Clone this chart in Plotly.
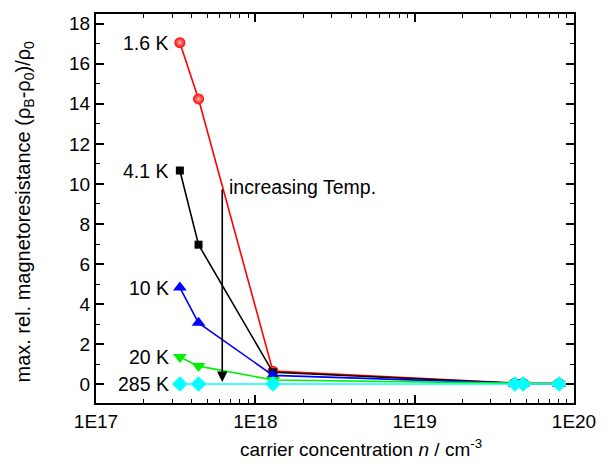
import math
import plotly.graph_objects as go

# carrier concentration (cm^-3)
n_vals = [3.36e17, 4.4e17, 1.29e18, 4.25e19, 4.8e19, 8.06e19]

# max. rel. magnetoresistance per temperature
mr_1p6K = [17.05, 14.24, 0.66, 0.05, 0.05, 0.04]
mr_4p1K = [10.67, 6.97, 0.60, 0.05, 0.04, 0.04]
mr_10K = [4.83, 3.07, 0.45, 0.04, 0.04, 0.03]
mr_20K = [1.37, 0.91, 0.22, 0.03, 0.03, 0.03]
mr_285K = [0.02, 0.02, 0.02, 0.02, 0.02, 0.02]

labels = ["1.6 K", "4.1 K", "10 K", "20 K", "285 K"]
series = [mr_1p6K, mr_4p1K, mr_10K, mr_20K, mr_285K]
colors = ["#ff0000", "#000000", "#0000ff", "#00f000", "#00ffff"]
symbols = ["circle", "square", "triangle-up", "triangle-down", "diamond"]
sizes = [11, 8, 12, 12, 12]

x_ticks = [1e17, 1e18, 1e19, 1e20]
x_ticktext = ["1E17", "1E18", "1E19", "1E20"]

FONT = "Liberation Sans, Arial, sans-serif"

fig = go.Figure()
for lab, ys, col, sym, sz in zip(labels, series, colors, symbols, sizes):
    marker = dict(symbol=sym, size=sz, color=col, line=dict(width=0))
    if sym == "circle":
        marker["gradient"] = dict(type="radial", color="#ffb0b0")
    fig.add_trace(go.Scatter(
        x=n_vals, y=ys, mode="lines+markers", name=lab,
        line=dict(color=col, width=1.6), marker=marker, showlegend=False))
    fig.add_annotation(x=math.log10(n_vals[0]), y=ys[0], xref="x", yref="y",
                       text=lab, showarrow=False, xanchor="right", yanchor="middle",
                       xshift=-9, font=dict(size=19.5, color="black", family=FONT))

arrow_x = math.log10(6.2e17)
fig.add_annotation(x=arrow_x, y=0.12, ax=arrow_x, ay=9.8, xref="x", yref="y",
                   axref="x", ayref="y", text="", showarrow=True,
                   arrowhead=2, arrowsize=1.3, arrowwidth=1.6, arrowcolor="black")
fig.add_annotation(x=arrow_x, y=9.84, xref="x", yref="y", text="increasing Temp.",
                   showarrow=False, xanchor="left", yanchor="middle", xshift=5,
                   font=dict(size=19.5, color="black", family=FONT))

# axis titles
fig.add_annotation(x=0.555, y=-0.115, xref="paper", yref="paper",
                   text="carrier concentration <i>n</i> / cm<sup>-3</sup>",
                   showarrow=False, xanchor="center", yanchor="middle",
                   font=dict(size=19, color="black", family=FONT))
fig.add_annotation(x=-0.150, y=0.493, xref="paper", yref="paper",
                   text="max. rel. magnetoresistance (ρ<sub>B</sub>-ρ<sub>0</sub>)/ρ<sub>0</sub>",
                   showarrow=False, textangle=-90, xanchor="center", yanchor="middle",
                   font=dict(size=20, color="black", family=FONT))

minor_x = [float(m) * 10.0 ** d for d in range(17, 20) for m in range(2, 10)]

fig.update_xaxes(type="log", range=[17, 20], tickvals=x_ticks, ticktext=x_ticktext,
                 ticks="inside", ticklen=8, tickwidth=1.5, tickcolor="black",
                 showline=True, linewidth=2, linecolor="black", mirror="allticks",
                 showgrid=False, zeroline=False,
                 tickfont=dict(size=19, color="black", family=FONT),
                 minor=dict(tickvals=minor_x, ticks="inside", ticklen=4,
                            tickwidth=1.2, tickcolor="black", showgrid=False))
fig.update_yaxes(range=[-0.93, 18.48], tick0=0, dtick=2,
                 ticks="inside", ticklen=8, tickwidth=1.5, tickcolor="black",
                 showline=True, linewidth=2, linecolor="black", mirror="allticks",
                 showgrid=False, zeroline=False,
                 tickfont=dict(size=19, color="black", family=FONT),
                 minor=dict(dtick=1, ticks="inside", ticklen=4,
                            tickwidth=1.2, tickcolor="black", showgrid=False))

fig.update_layout(width=608, height=467, margin=dict(l=96, r=27, t=13, b=64),
                  plot_bgcolor="white", paper_bgcolor="white",
                  font=dict(family=FONT, color="black"))

fig.write_html("out.html", config={"displayModeBar": False},
               post_script="document.body.style.margin='0px';document.body.style.overflow='hidden';")
